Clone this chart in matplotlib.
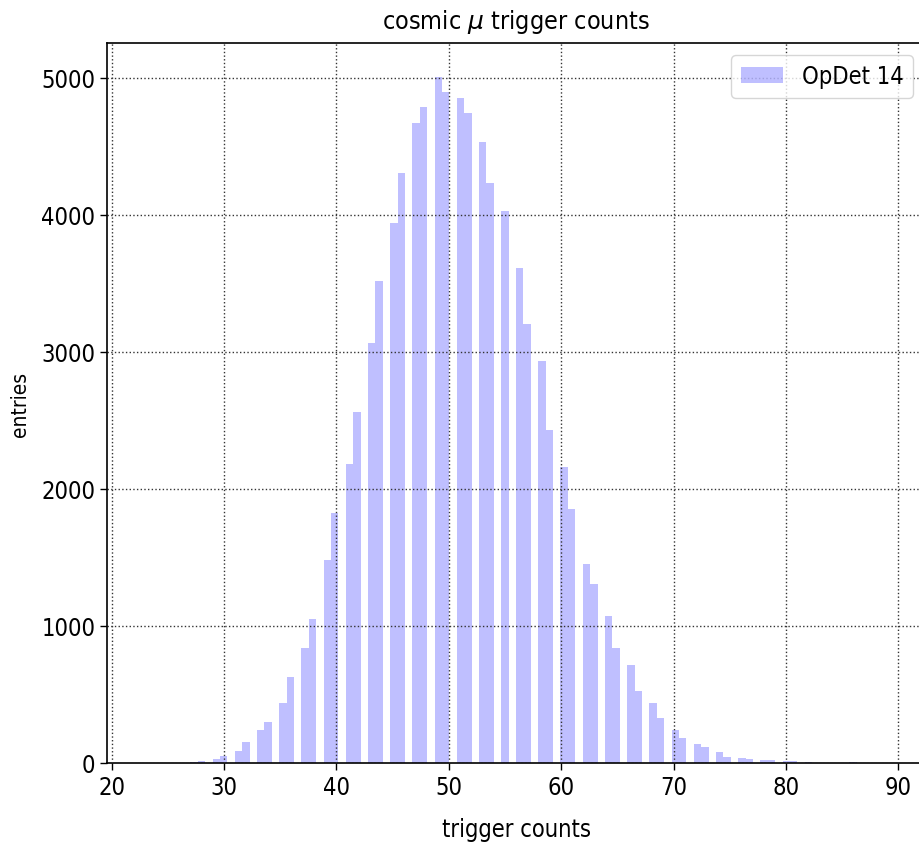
import matplotlib
matplotlib.use("Agg")
import matplotlib.pyplot as plt
from matplotlib import font_manager
import numpy as np

# Trigger-count values (one per integer) and the number of entries for each
trigger_counts = list(range(27, 87))
entries = [
    10, 15, 32, 54, 88, 152, 240, 298, 438, 628,                 # 27-36
    841, 1054, 1480, 1821, 2181, 2564, 3067, 3520, 3943, 4309,   # 37-46
    4670, 4789, 5005, 4901, 4855, 4746, 4531, 4230, 4028, 3615,  # 47-56
    3206, 2935, 2432, 2163, 1856, 1450, 1309, 1070, 842, 718,    # 57-66
    528, 438, 330, 243, 182, 141, 117, 80, 46, 34,               # 67-76
    32, 19, 19, 12, 12, 10, 2, 0, 1, 8,                          # 77-86
]

# Histogram binning
bin_start = 27.0
bin_width = 0.6588
n_bins = 100

x_ticks = [20, 30, 40, 50, 60, 70, 80, 90]
y_ticks = [0, 1000, 2000, 3000, 4000, 5000]


def narrow_font():
    """Return font properties for a condensed sans face if one is installed."""
    fonts = font_manager.fontManager.ttflist
    for f in fonts:
        if f.name == "DejaVu Sans" and f.stretch in ("condensed", "semi-condensed", 600, 500) \
                and f.style == "normal" and f.weight in ("normal", 400, "regular", "book"):
            return dict(family="DejaVu Sans", stretch="condensed")
    for f in fonts:
        if f.name == "Liberation Sans Narrow":
            return dict(family="Liberation Sans Narrow")
    return dict(family="Roboto")


nf = narrow_font()

fig = plt.figure(figsize=(9.2, 8.45), dpi=100)
ax = fig.add_axes([0.1166, 0.0959, 0.8888, 0.852])

edges = bin_start + bin_width * np.arange(n_bins + 1)
ax.hist(trigger_counts, bins=edges, weights=entries, histtype="stepfilled",
        color="blue", alpha=0.25, linewidth=0, label="OpDet 14")

ax.set_xlim(19.6, 92.38)
ax.set_xticks(x_ticks)
ax.set_yticks(y_ticks)
ax.grid(True, linestyle=":", color="0.2", linewidth=1.0)
ax.set_axisbelow(False)

for sp in ax.spines.values():
    sp.set_linewidth(1.2)
ax.tick_params(length=5, width=1.0)

for lab in ax.get_xticklabels() + ax.get_yticklabels():
    lab.set_fontproperties(font_manager.FontProperties(size=17, **nf))

ax.set_title(r"cosmic $\mu$ trigger counts", fontsize=18, pad=11, **nf)
ax.set_xlabel("trigger counts", fontsize=17, labelpad=13, **nf)
ax.set_ylabel("entries", fontsize=15, labelpad=8, **nf)

leg = ax.legend(loc="upper right", handlelength=1.8,
                prop=font_manager.FontProperties(size=17, **nf))

fig.savefig("out.png", dpi=100)
